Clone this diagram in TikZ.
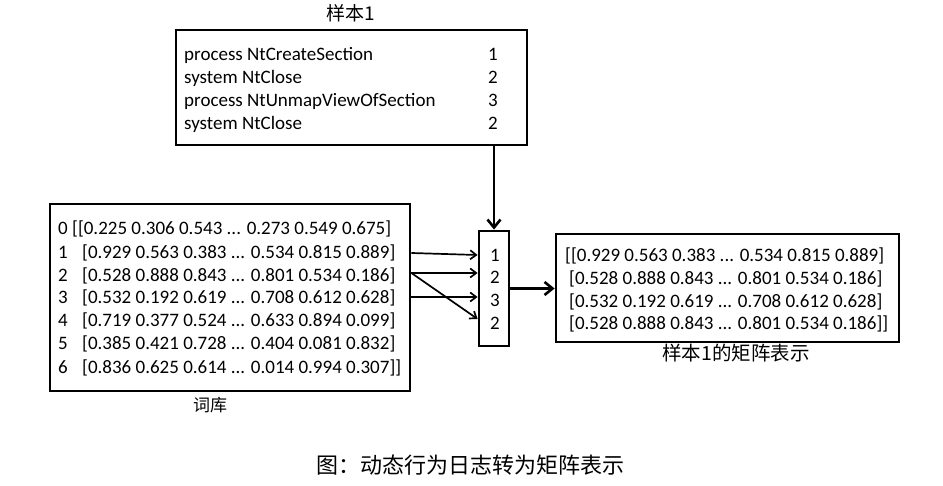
\documentclass[tikz,border=0pt]{standalone}
\usepackage{fontspec}
\setmainfont{Carlito}
\newfontfamily\cjk{Noto Sans CJK SC}
\usetikzlibrary{arrows.meta,calc}

\begin{document}
\begin{tikzpicture}[x=1pt,y=-1pt,
  frame/.style={draw, line width=2.8pt, inner sep=0pt},
  txt/.style={anchor=west, inner sep=0pt, text height=12.4pt, text depth=0pt,
              font=\fontsize{19}{22}\selectfont},
  ctr/.style={inner sep=0pt, text height=12.4pt, text depth=0pt,
              font=\fontsize{19}{22}\selectfont},
  lbl/.style={inner sep=0pt, font=\cjk\fontsize{#1}{#1}\selectfont},
  link/.style={line width=1.7pt, -{Straight Barb[length=6pt,width=9pt,line width=1.7pt]}},
  biglink/.style={line width=2.6pt, -{Straight Barb[length=8pt,width=13pt,line width=2.6pt]}}]

\useasboundingbox (0,0) rectangle (943,486);

% sample log
\node[frame, minimum width=351pt, minimum height=115pt] (sample) at (351.5,87.5) {};
\node[lbl=19] (sampletitle) at (351,13) {样本1};
\node[txt] (t1) at (184,54) {process NtCreateSection};
\node[txt] (t2) at (184,77) {system NtClose};
\node[txt] (t3) at (184,100) {process NtUnmapViewOfSection};
\node[txt] (t4) at (184,123) {system NtClose};
\node[txt] (c1) at (488,54) {1};
\node[txt] (c2) at (488,77) {2};
\node[txt] (c3) at (488,100) {3};
\node[txt] (c4) at (488,123) {2};

% vocabulary
\node[frame, minimum width=360pt, minimum height=187pt] (lib) at (230,297.5) {};
\node[lbl=17] (libtitle) at (210,405) {词库};
\node[txt] (i0) at (58,228) {0};
\node[txt] (i1) at (58,252) {1};
\node[txt] (i2) at (58,275) {2};
\node[txt] (i3) at (58,297) {3};
\node[txt] (i4) at (58,320) {4};
\node[txt] (i5) at (58,343) {5};
\node[txt] (i6) at (58,367) {6};
\node[txt] (r0) at (72,228) {[[0.225 0.306 0.543 ... 0.273 0.549 0.675]};
\node[txt] (r1) at (82,252) {[0.929 0.563 0.383 ... 0.534 0.815 0.889]};
\node[txt] (r2) at (82,275) {[0.528 0.888 0.843 ... 0.801 0.534 0.186]};
\node[txt] (r3) at (82,297) {[0.532 0.192 0.619 ... 0.708 0.612 0.628]};
\node[txt] (r4) at (82,320) {[0.719 0.377 0.524 ... 0.633 0.894 0.099]};
\node[txt] (r5) at (82,343) {[0.385 0.421 0.728 ... 0.404 0.081 0.832]};
\node[txt] (r6) at (82,367) {[0.836 0.625 0.614 ... 0.014 0.994 0.307]]};

% index column
\node[frame, minimum width=30pt, minimum height=115pt] (idx) at (494,288.5) {};
\node[ctr] (n1) at (495,255) {1};
\node[ctr] (n2) at (495,277) {2};
\node[ctr] (n3) at (495,300) {3};
\node[ctr] (n4) at (495,323) {2};

% resulting matrix
\node[frame, minimum width=343pt, minimum height=108pt] (mat) at (727.5,288) {};
\node[lbl=19.5] (mattitle) at (736,353) {样本1的矩阵表示};
\node[txt] (m1) at (565,255) {[[0.929 0.563 0.383 ... 0.534 0.815 0.889]};
\node[txt] (m2) at (569,278) {[0.528 0.888 0.843 ... 0.801 0.534 0.186]};
\node[txt] (m3) at (569,301) {[0.532 0.192 0.619 ... 0.708 0.612 0.628]};
\node[txt] (m4) at (569,323) {[0.528 0.888 0.843 ... 0.801 0.534 0.186]]};

% caption
\node[lbl=22] (caption) at (470,465) {图：动态行为日志转为矩阵表示};

% connectors
\draw[biglink] (idx.north |- sample.south) -- (idx.north);
\draw[link] ([yshift=-1pt]lib.east |- r1) -- ([yshift=0pt]idx.west |- n1);
\draw[link] ([yshift=2pt]lib.east |- r2) -- ([yshift=4pt]idx.west |- n2);
\draw[link] ([yshift=2pt]lib.east |- r2) -- ([yshift=4pt]idx.west |- n4);
\draw[link] (lib.east |- r3) -- ([yshift=3pt]idx.west |- n3);
\draw[biglink] (idx.east) -- (idx.east -| mat.west);
\end{tikzpicture}
\end{document}
